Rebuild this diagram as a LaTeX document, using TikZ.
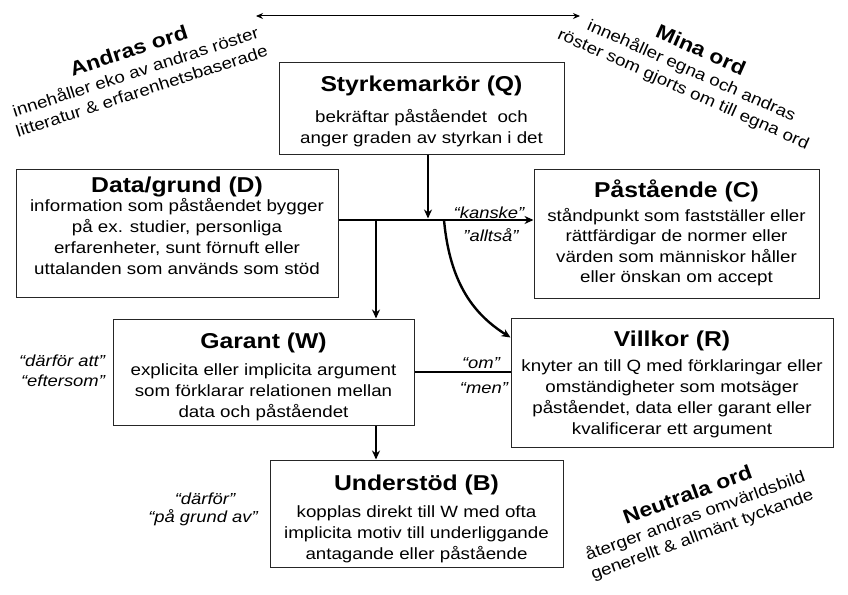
\documentclass[tikz,border=0pt]{standalone}
\usepackage{fontspec}
\setmainfont[FakeStretch=1.15]{Liberation Sans}
\usetikzlibrary{arrows.meta}
\newcommand{\rtitlefont}{\fontsize{20}{22}\selectfont\bfseries}
\begin{document}
\begin{tikzpicture}[x=1pt,y=-1pt,
  box/.style={draw=black!85, line width=1pt, rectangle, inner sep=0pt},
  ttl/.style={anchor=base, inner sep=0pt, font=\fontsize{21.5}{24}\selectfont\bfseries},
  bdy/.style={anchor=base, inner sep=0pt, font=\fontsize{16.3}{21}\selectfont},
  lbl/.style={inner sep=0pt, font=\fontsize{16}{19}\selectfont\itshape},
  rot/.style={inner sep=0pt, align=center, font=\fontsize{16.3}{20}\selectfont},
  conn/.style={line width=2.4pt, black},
  arr/.style={-{Stealth[length=9pt,width=8pt]}},
  thinarr/.style={line width=1pt, {Stealth[length=7pt,width=6pt]}-{Stealth[length=7pt,width=6pt]}}
]
\useasboundingbox (0,0) rectangle (848,594);

% boxes
\node[box, minimum width=285pt, minimum height=91pt]  (Q) at (421.5,108.5) {};
\node[box, minimum width=322pt, minimum height=128pt] (D) at (177,233) {};
\node[box, minimum width=285pt, minimum height=129pt] (C) at (676.5,233.5) {};
\node[box, minimum width=301pt, minimum height=106pt] (W) at (263.5,372) {};
\node[box, minimum width=322pt, minimum height=129pt] (R) at (672,382.5) {};
\node[box, minimum width=293pt, minimum height=107pt] (B) at (416.5,513.5) {};

% box texts
\node[ttl] (Qt) at (421.5,92) {Styrkemarkör (Q)};
\node[bdy] (Qb) at (421.5,122) {\parbox[t]{280pt}{\centering bekräftar påståendet\ \ och\\ anger graden av styrkan i det}};

\node[ttl] (Dt) at (177,192) {Data/grund (D)};
\node[bdy] (Db) at (177,211) {\parbox[t]{318pt}{\centering information som påståendet bygger\\ på ex. studier, personliga\\ erfarenheter, sunt förnuft eller\\ uttalanden som används som stöd}};

\node[ttl] (Ct) at (676.5,197) {Påstående (C)};
\node[bdy] (Cb) at (676.5,221) {\parbox[t]{280pt}{\centering\baselineskip=20.5pt ståndpunkt som fastställer eller\\ rättfärdigar de normer eller\\ värden som människor håller\\ eller önskan om accept}};

\node[ttl] (Wt) at (263.5,348) {Garant (W)};
\node[bdy] (Wb) at (263.5,375) {\parbox[t]{298pt}{\centering explicita eller implicita argument\\ som förklarar relationen mellan\\ data och påståendet}};

\node[ttl] (Rt) at (672,346) {Villkor (R)};
\node[bdy] (Rb) at (672,371) {\parbox[t]{318pt}{\centering knyter an till Q med förklaringar eller\\ omständigheter som motsäger\\ påståendet, data eller garant eller\\ kvalificerar ett argument}};

\node[ttl] (Bt) at (416.5,490) {Understöd (B)};
\node[bdy] (Bb) at (416.5,517) {\parbox[t]{290pt}{\centering kopplas direkt till W med ofta\\ implicita motiv till underliggande\\ antagande eller påstående}};

% rotated blocks
\node[rot, rotate=18] (andras) at (135,70) {{\rtitlefont Andras ord}\\[1pt] innehåller eko av andras röster\\ litteratur \& erfarenhetsbaserade};
\node[rot, rotate=-24] (mina) at (692,70) {{\rtitlefont Mina ord}\\[1pt] innehåller egna och andras\\ röster som gjorts om till egna ord};
\node[rot, rotate=20] (neutrala) at (695,515) {{\rtitlefont Neutrala ord}\\[1pt] återger andras omvärldsbild\\ generellt \& allmänt tyckande};

% coordinates
\coordinate (jq) at (428,220);
\coordinate (j1) at (376,220);
\coordinate (j2) at (444,220);
\coordinate (tl) at (256,16);
\coordinate (tr) at (580,16);

% connectors
\draw[thinarr] (tl) -- (tr);
\draw[conn, arr] (D.east |- jq) -- (C.west |- jq);
\draw[conn, arr, shorten >=1.5pt] (Q.south -| jq) -- (jq);
\draw[conn, arr] (j1) -- (W.north -| j1);
\draw[conn, arr] (j2) .. controls (450,285) and (475,315) .. ([yshift=-20pt]R.north west);
\draw[conn] (W.east) -- (W.east -| R.west);
\draw[conn, arr] (W.south -| j1) -- (B.north -| j1);

% labels
\node[lbl] (kanske) at (489,213) {“kanske”};
\node[lbl] (alltsa) at (491,235) {"alltså"};
\node[lbl] (om) at (481,363) {“om”};
\node[lbl] (men) at (484,388) {“men”};
\node[lbl] (darforatt) at (62,361) {“därför att”};
\node[lbl] (eftersom) at (63,381) {“eftersom”};
\node[lbl] (darfor) at (205,499) {“därför”};
\node[lbl] (pagrund) at (203,518) {“på grund av”};
\end{tikzpicture}
\end{document}
